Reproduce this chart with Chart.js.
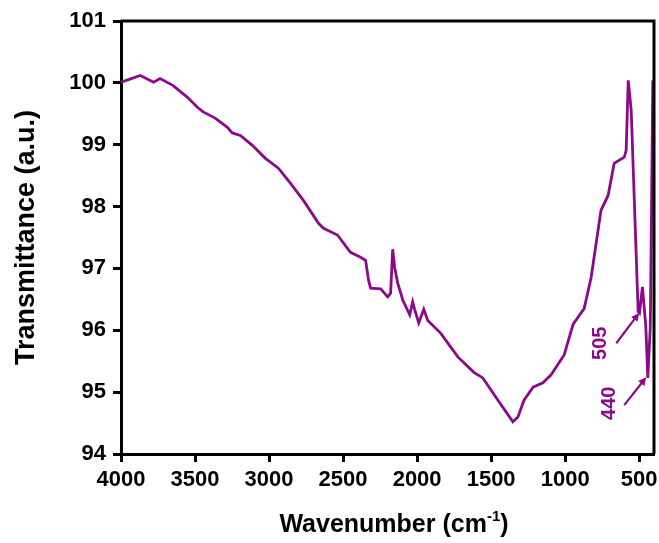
<!DOCTYPE html>
<html>
<head>
<meta charset="utf-8">
<script src="https://cdn.jsdelivr.net/npm/chart.js@4.4.1/dist/chart.umd.min.js"></script>
<style>
  html, body { margin: 0; padding: 0; background: #fff; }
  #wrap { width: 659px; height: 543px; position: relative; }
</style>
</head>
<body>
<div id="wrap"><canvas id="c" width="659" height="543"></canvas></div>
<script>
// Wavenumber (cm-1) and transmittance (a.u.)
const wavenumbers = [4000, 3940, 3870, 3780, 3736, 3650, 3553, 3486, 3445, 3364, 3282, 3248, 3194, 3113,
  3025, 2937, 2856, 2768, 2666, 2632, 2538, 2450, 2382, 2348, 2328, 2314, 2246, 2199, 2179, 2165,
  2152, 2131, 2097, 2050, 2030, 2016, 1989, 1955, 1928, 1840, 1725, 1617, 1556, 1454, 1353, 1319,
  1278, 1217, 1150, 1095, 1007, 946, 872, 825, 758, 710, 669, 601, 588, 574, 554, 507, 498, 478,
  455, 442, 425, 408];
const transmittance = [100.01, 100.06, 100.12, 100.01, 100.07, 99.96, 99.77, 99.61, 99.53, 99.43, 99.28,
  99.19, 99.15, 98.99, 98.78, 98.62, 98.38, 98.10, 97.73, 97.65, 97.54, 97.26, 97.18, 97.13, 96.81,
  96.68, 96.67, 96.54, 96.60, 97.31, 97.02, 96.76, 96.49, 96.25, 96.46, 96.33, 96.12, 96.34, 96.16,
  95.95, 95.57, 95.32, 95.23, 94.87, 94.52, 94.60, 94.87, 95.08, 95.15, 95.28, 95.60, 96.10, 96.35,
  96.85, 97.94, 98.18, 98.70, 98.80, 98.91, 100.04, 99.56, 96.30, 96.28, 96.70, 96.05, 95.23, 96.05,
  100.04];
const xTickValues = [4000, 3500, 3000, 2500, 2000, 1500, 1000, 500];
const yTickValues = [94, 95, 96, 97, 98, 99, 100, 101];
// Peak annotations: label text, label anchor (wavenumber, T), arrow start, arrow end
const peakLabels = ['505', '440'];
const labelAnchors = [[770, 95.79], [710, 94.82]];
const arrowStarts = [[655, 95.79], [601, 94.79]];
const arrowEnds = [[500, 96.28], [453, 95.24]];

const PURPLE = '#8b0a8b';
const FONT = '"Liberation Sans", Arial, sans-serif';

const points = wavenumbers.map((w, i) => ({ x: w, y: transmittance[i] }));

const framePlugin = {
  id: 'frame',
  afterDatasetsDraw(chart) {
    const { ctx, chartArea: a, scales } = chart;
    ctx.save();
    // top and right border
    ctx.strokeStyle = '#000';
    ctx.lineWidth = 3;
    ctx.beginPath();
    ctx.moveTo(a.left, a.top);
    ctx.lineTo(a.right, a.top);
    ctx.lineTo(a.right, a.bottom);
    ctx.stroke();

    // annotations
    const xs = scales.x, ys = scales.y;
    ctx.fillStyle = PURPLE;
    ctx.strokeStyle = PURPLE;
    ctx.font = 'bold 20px ' + FONT;
    ctx.textAlign = 'center';
    ctx.textBaseline = 'middle';
    peakLabels.forEach((t, i) => {
      const lx = xs.getPixelForValue(labelAnchors[i][0]);
      const ly = ys.getPixelForValue(labelAnchors[i][1]);
      ctx.save();
      ctx.translate(lx, ly);
      ctx.rotate(-Math.PI / 2);
      ctx.fillText(t, 0, 1);
      ctx.restore();
      const x0 = xs.getPixelForValue(arrowStarts[i][0]);
      const y0 = ys.getPixelForValue(arrowStarts[i][1]);
      const x1 = xs.getPixelForValue(arrowEnds[i][0]);
      const y1 = ys.getPixelForValue(arrowEnds[i][1]);
      const ang = Math.atan2(y1 - y0, x1 - x0);
      ctx.lineWidth = 2.2;
      ctx.beginPath();
      ctx.moveTo(x0, y0);
      ctx.lineTo(x1 - 5 * Math.cos(ang), y1 - 5 * Math.sin(ang));
      ctx.stroke();
      ctx.beginPath();
      ctx.moveTo(x1, y1);
      ctx.lineTo(x1 - 8 * Math.cos(ang) + 4 * Math.sin(ang), y1 - 8 * Math.sin(ang) - 4 * Math.cos(ang));
      ctx.lineTo(x1 - 8 * Math.cos(ang) - 4 * Math.sin(ang), y1 - 8 * Math.sin(ang) + 4 * Math.cos(ang));
      ctx.closePath();
      ctx.fill();
    });

    // x axis title with superscript
    ctx.fillStyle = '#000';
    ctx.textBaseline = 'alphabetic';
    ctx.textAlign = 'left';
    const main = 'Wavenumber (cm';
    const sup = '-1';
    const close = ')';
    ctx.font = 'bold 25px ' + FONT;
    const wMain = ctx.measureText(main).width;
    const wClose = ctx.measureText(close).width;
    ctx.font = 'bold 15px ' + FONT;
    const wSup = ctx.measureText(sup).width;
    const total = wMain + wSup + wClose;
    const cx = 394;
    const by = 532;
    let x = cx - total / 2;
    ctx.font = 'bold 25px ' + FONT;
    ctx.fillText(main, x, by);
    x += wMain;
    ctx.font = 'bold 15px ' + FONT;
    ctx.fillText(sup, x, by - 11);
    x += wSup;
    ctx.font = 'bold 25px ' + FONT;
    ctx.fillText(close, x, by);
    ctx.restore();
  }
};

new Chart(document.getElementById('c'), {
  type: 'line',
  data: {
    datasets: [{
      data: points,
      borderColor: PURPLE,
      borderWidth: 2.8,
      pointRadius: 0,
      tension: 0,
      fill: false
    }]
  },
  options: {
    responsive: false,
    animation: false,
    events: [],
    layout: { padding: { top: 21, right: 5, bottom: 0, left: 0 } },
    plugins: { legend: { display: false }, tooltip: { enabled: false } },
    scales: {
      x: {
        type: 'linear',
        reverse: true,
        min: 400,
        max: 4000,
        afterBuildTicks(s) { s.ticks = xTickValues.map(v => ({ value: v })); },
        afterFit(s) { s.height = 89; s.paddingLeft = 0; s.paddingRight = 0; },
        border: { display: true, color: '#000', width: 3 },
        grid: { display: true, drawOnChartArea: false, drawTicks: true, tickLength: 8, tickWidth: 3, tickColor: '#000' },
        ticks: { color: '#000', padding: 5, maxRotation: 0, autoSkip: false, callback: v => String(v), font: { family: FONT, size: 22, weight: 'bold' } },
        title: { display: false }
      },
      y: {
        type: 'linear',
        min: 94,
        max: 101,
        afterBuildTicks(s) { s.ticks = yTickValues.map(v => ({ value: v })); },
        afterFit(s) { s.width = 121; },
        border: { display: true, color: '#000', width: 3 },
        grid: { display: true, drawOnChartArea: false, drawTicks: true, tickLength: 8, tickWidth: 3, tickColor: '#000' },
        ticks: { color: '#000', padding: 7, callback: v => String(v), font: { family: FONT, size: 22, weight: 'bold' } },
        title: { display: true, text: 'Transmittance (a.u.)', color: '#000', padding: { top: 10, bottom: 0 }, font: { family: FONT, size: 27, weight: 'bold' } }
      }
    }
  },
  plugins: [framePlugin]
});
</script>
</body>
</html>
